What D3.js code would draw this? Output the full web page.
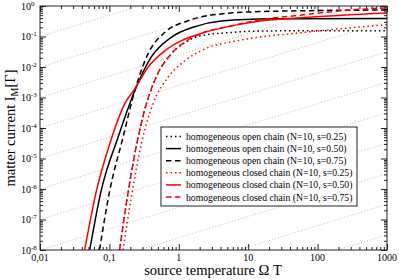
<!DOCTYPE html>
<html>
<head>
<meta charset="utf-8">
<script src="https://cdn.jsdelivr.net/npm/d3@7"></script>
<style>
  body { margin: 0; background: #fff; }
  svg { display: block; font-family: "Liberation Serif", "DejaVu Serif", serif; }
</style>
</head>
<body>
<svg class="chart" width="399" height="280"></svg>
<script>
// tick labels
const xTicks = [0.01, 0.1, 1, 10, 100, 1000];
const xTickLabels = ["0,01", "0,1", "1", "10", "100", "1000"];
const yExponents = [0, -1, -2, -3, -4, -5, -6, -7, -8];

// legend text
const seriesNames = [
    "homogeneous open chain (N=10, s=0.25)",
    "homogeneous open chain (N=10, s=0.50)",
    "homogeneous open chain (N=10, s=0.75)",
    "homogeneous closed chain (N=10, s=0.25)",
    "homogeneous closed chain (N=10, s=0.50)",
    "homogeneous closed chain (N=10, s=0.75)"
];

// series values (T, current)
const open25T = [0.14, 0.175, 0.232, 0.32, 0.47, 0.78, 1.3, 2.0, 5.5, 14.8, 100, 1000];
const open25I = [1e-8, 3.2e-7, 1.4e-5, 3.7e-4, 4.6e-3, 0.027, 0.068, 0.104, 0.135, 0.151, 0.155, 0.155];
const open50T = [0.052, 0.076, 0.133, 0.232, 0.40, 0.78, 1.7, 4.1, 21.5, 1000];
const open50I = [1e-8, 8.7e-7, 4.9e-5, 1.66e-3, 0.021, 0.094, 0.21, 0.32, 0.38, 0.39];
const open75T = [0.072, 0.101, 0.157, 0.232, 0.36, 0.63, 1.36, 4.1, 21.5, 1000];
const open75I = [1e-8, 8.7e-7, 4.9e-5, 1.66e-3, 0.027, 0.137, 0.33, 0.55, 0.67, 0.74];
const closed25T = [0.157, 0.207, 0.288, 0.425, 0.70, 1.22, 2.36, 7.1, 65, 1000];
const closed25I = [1e-8, 5.4e-7, 3e-5, 6.2e-4, 4.6e-3, 0.016, 0.039, 0.073, 0.137, 0.245];
const closed50T = [0.044, 0.065, 0.101, 0.166, 0.232, 0.36, 0.63, 1.09, 2.36, 7.1, 14.8, 65, 1000];
const closed50I = [1e-8, 8.7e-7, 3e-5, 6.2e-4, 1.9e-3, 9.8e-3, 0.034, 0.073, 0.137, 0.245, 0.32, 0.42, 0.59];
const closed75T = [0.14, 0.175, 0.232, 0.32, 0.47, 0.78, 1.22, 2.0, 5.5, 14.8, 56, 293, 1000];
const closed75I = [1e-8, 3.2e-7, 1.4e-5, 3.7e-4, 4.6e-3, 0.027, 0.066, 0.12, 0.22, 0.35, 0.5, 0.74, 0.87];

// faint guide lines: value at T=0.01 and log-log slope
const guideStart = [1e-1, 1e-2, 1e-3, 1e-4, 1e-5, 1e-6, 1e-7, 1e-8, 1e-9, 1e-10, 1e-11, 1e-12];
const guideSlope = 0.7;

const plot = { left: 40, right: 387, top: 6, bottom: 250 };

const svg = d3.select(".chart");

const x = d3.scaleLog().domain([0.01, 1000]).range([plot.left, plot.right]);
const y = d3.scaleLog().domain([1e-8, 1]).range([plot.bottom, plot.top]);

svg.append("defs").append("clipPath").attr("id", "plot")
    .append("rect")
    .attr("x", plot.left).attr("y", plot.top)
    .attr("width", plot.right - plot.left).attr("height", plot.bottom - plot.top);

// guide lines
const guides = svg.append("g").attr("clip-path", "url(#plot)");
guideStart.forEach(c => {
    guides.append("line")
        .attr("x1", x(0.01)).attr("y1", y(c))
        .attr("x2", x(1000)).attr("y2", y(c * Math.pow(1e5, guideSlope)))
        .attr("stroke", "#d2b4b4")
        .attr("stroke-width", 1)
        .attr("stroke-dasharray", "1,2");
});

// minor tick values
const minor = (lo, hi) => {
    const out = [];
    for (let d = lo; d < hi * 0.99; d *= 10)
        for (let k = 2; k <= 9; k++) out.push(d * k);
    return out;
};
const xMinor = minor(0.01, 1000);
const yMinor = minor(1e-8, 1);
const yMajor = yExponents.map(e => Math.pow(10, e));

function tickGroup(axis, transform) {
    const g = svg.append("g").attr("transform", transform).call(axis);
    g.select(".domain").remove();
    g.selectAll("line").attr("stroke", "#222").attr("stroke-width", 1);
}

tickGroup(d3.axisBottom(x).tickValues(xMinor).tickSize(-3).tickFormat(""), `translate(0,${plot.bottom})`);
tickGroup(d3.axisBottom(x).tickValues(xTicks).tickSize(-6).tickFormat(""), `translate(0,${plot.bottom})`);
tickGroup(d3.axisTop(x).tickValues(xMinor).tickSize(-3).tickFormat(""), `translate(0,${plot.top})`);
tickGroup(d3.axisTop(x).tickValues(xTicks).tickSize(-6).tickFormat(""), `translate(0,${plot.top})`);
tickGroup(d3.axisLeft(y).tickValues(yMinor).tickSize(-3).tickFormat(""), `translate(${plot.left},0)`);
tickGroup(d3.axisLeft(y).tickValues(yMajor).tickSize(-6).tickFormat(""), `translate(${plot.left},0)`);
tickGroup(d3.axisRight(y).tickValues(yMinor).tickSize(-3).tickFormat(""), `translate(${plot.right},0)`);
tickGroup(d3.axisRight(y).tickValues(yMajor).tickSize(-6).tickFormat(""), `translate(${plot.right},0)`);

// curves
const series = [
    { T: open25T, I: open25I, color: "#000", dash: "1.5,3" },
    { T: open50T, I: open50I, color: "#000", dash: null },
    { T: open75T, I: open75I, color: "#000", dash: "5.5,3.5" },
    { T: closed25T, I: closed25I, color: "#f00", dash: "1.5,3" },
    { T: closed50T, I: closed50I, color: "#f00", dash: null },
    { T: closed75T, I: closed75I, color: "#f00", dash: "5.5,3.5" }
];

const line = d3.line()
    .x(d => x(d[0]))
    .y(d => y(d[1]))
    .curve(d3.curveMonotoneX);

const curves = svg.append("g").attr("clip-path", "url(#plot)");
series.forEach(s => {
    curves.append("path")
        .datum(d3.zip(s.T, s.I))
        .attr("d", line)
        .attr("fill", "none")
        .attr("stroke", s.color)
        .attr("stroke-width", 1.5)
        .attr("stroke-dasharray", s.dash);
});

// frame
svg.append("rect")
    .attr("x", plot.left).attr("y", plot.top)
    .attr("width", plot.right - plot.left).attr("height", plot.bottom - plot.top)
    .attr("fill", "none").attr("stroke", "#222").attr("stroke-width", 1);

// tick labels
svg.append("g").selectAll("text")
    .data(xTicks)
    .enter().append("text")
    .attr("x", d => x(d))
    .attr("y", plot.bottom + 11)
    .attr("text-anchor", "middle")
    .attr("font-size", 10)
    .text((d, i) => xTickLabels[i]);

const yl = svg.append("g").selectAll("text")
    .data(yExponents)
    .enter().append("text")
    .attr("x", 21)
    .attr("y", d => y(Math.pow(10, d)) + 3.5)
    .attr("font-size", 10);
yl.append("tspan").text("10");
yl.append("tspan").attr("dy", -4).attr("font-size", 7).text(d => d);

// axis titles
svg.append("text")
    .attr("x", 213).attr("y", 275)
    .attr("text-anchor", "middle")
    .attr("font-size", 14.5)
    .text("source temperature Ω T");

const yt = svg.append("text")
    .attr("transform", "translate(15,128) rotate(-90)")
    .attr("text-anchor", "middle")
    .attr("font-size", 14.5);
yt.append("tspan").text("matter current I");
yt.append("tspan").attr("dy", 3).attr("font-size", 10).text("M");
yt.append("tspan").attr("dy", -3).text("[Γ]");

// legend
const lg = svg.append("g").attr("transform", "translate(161,127)");
lg.append("rect")
    .attr("width", 196).attr("height", 79)
    .attr("fill", "#fff").attr("stroke", "#222").attr("stroke-width", 1);
series.forEach((s, i) => {
    const ly = 9.5 + i * 12.1;
    lg.append("line")
        .attr("x1", 5).attr("x2", 20)
        .attr("y1", ly).attr("y2", ly)
        .attr("stroke", s.color)
        .attr("stroke-width", 1.5)
        .attr("stroke-dasharray", s.dash);
    lg.append("text")
        .attr("x", 25).attr("y", ly + 3.5)
        .attr("font-size", 9.7)
        .text(seriesNames[i]);
});
</script>
</body>
</html>
